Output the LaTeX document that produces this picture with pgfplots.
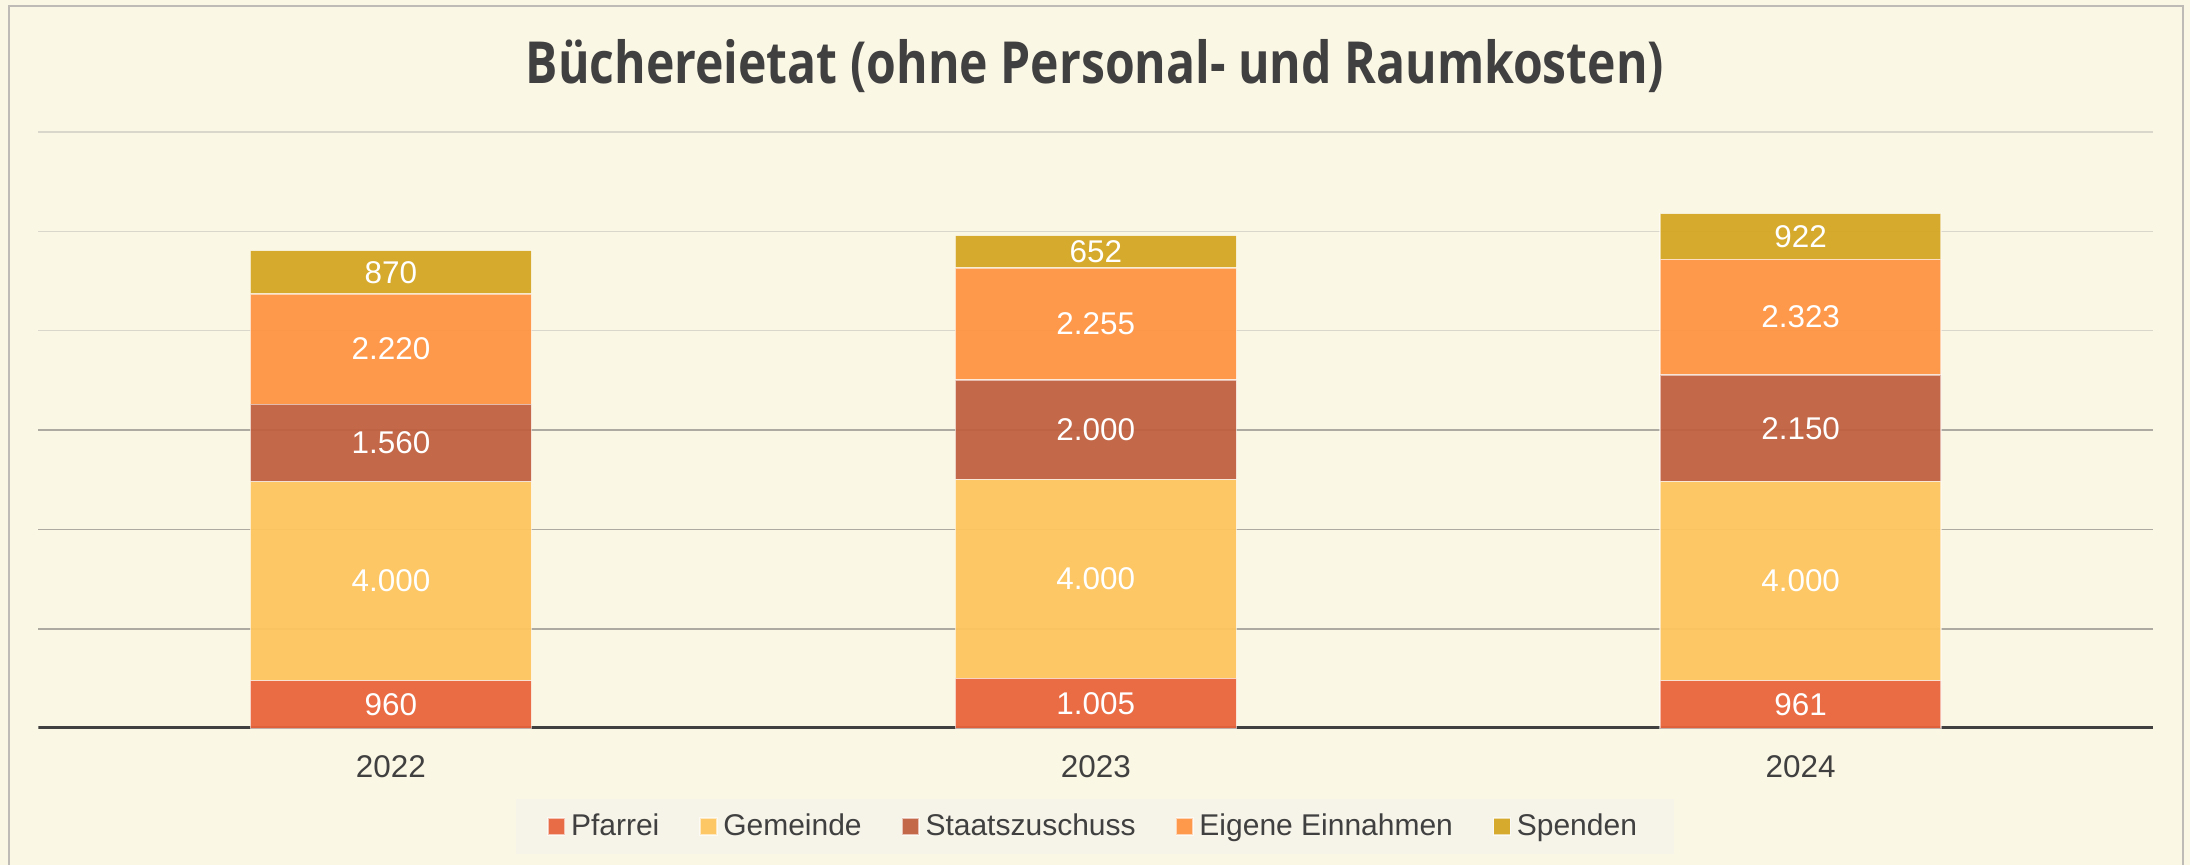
\documentclass[border=0pt]{standalone}
\usepackage{pgfplots}
\pgfplotsset{compat=1.18}
\usepackage{fontspec}
\setmainfont{Liberation Sans}
\newfontfamily\titlefont[UprightFont=* Bold, FakeStretch=0.83]{Open Sans}
\definecolor{bg}{HTML}{FBF7E5}
\definecolor{framec}{HTML}{BEBBB6}
\definecolor{legbg}{HTML}{F6F3E8}
\definecolor{txt}{HTML}{404040}
\definecolor{cP}{HTML}{E8643C}
\definecolor{cG}{HTML}{FDC55C}
\definecolor{cS}{HTML}{C0603F}
\definecolor{cE}{HTML}{FF9442}
\definecolor{cSp}{HTML}{D4A722}
\definecolor{gridA}{HTML}{ADABA1}
\definecolor{gridB}{HTML}{D9D6CB}
\begin{document}
\begin{tikzpicture}[x=1pt,y=1pt]
\fill[bg] (0,0) rectangle (766.5,302.75);
\draw[framec, line width=0.45pt] (3.15,0) -- (3.15,300.65) -- (764.05,300.65) -- (764.05,0);
\node[anchor=base, font=\titlefont\fontsize{20.3}{24}\selectfont, text=txt] at (383.25,273.6) {Büchereietat (ohne Personal- und Raumkosten)};
\begin{axis}[
  at={(13.475pt,47.85pt)}, anchor=south west,
  scale only axis, width=740.1pt, height=208.74pt,
  ybar stacked, bar width=98.35pt,
  xmin=-0.5, xmax=2.5, ymin=0, ymax=12000,
  scaled y ticks=false,
  xtick={0,1,2}, xticklabels={2022,2023,2024},
  ytick={2000,4000,6000}, yticklabels={},
  extra y ticks={8000,10000,12000}, extra y tick labels={},
  ymajorgrids,
  major grid style={draw=gridA, line width=0.45pt},
  extra y tick style={ymajorgrids=true, major grid style={draw=gridB, line width=0.45pt}},
  axis line style={draw=none}, tick style={draw=none}, major tick length=0pt,
  xticklabel style={font=\fontsize{11}{13}\selectfont, text=txt, yshift=-6pt},
  nodes near coords, point meta=explicit symbolic,
  every node near coord/.append style={anchor=center, text=white, text opacity=1,
     font=\fontsize{11}{13}\selectfont},
  mybar/.style={fill=#1, draw=white, draw opacity=0.55, line width=0.5pt, fill opacity=0.94},
  legend style={at={(0.4996,-0.1647)}, anchor=center, draw=none, fill=legbg,
     legend columns=5, font=\fontsize{10.5}{12}\selectfont, text=txt,
     inner xsep=11pt, inner ysep=3pt,
     /tikz/every even column/.append style={column sep=12pt}},
  legend image code/.code={\draw[#1, draw opacity=0.6] (0pt,-2.9pt) rectangle (5.85pt,2.95pt);},
]
\addplot[mybar=cP] table[x=x, y=y, meta=l] {
x y l
0 960 960
1 1005 1.005
2 961 961
};
\addplot[mybar=cG] table[x=x, y=y, meta=l] {
x y l
0 4000 4.000
1 4000 4.000
2 4000 4.000
};
\addplot[mybar=cS] table[x=x, y=y, meta=l] {
x y l
0 1560 1.560
1 2000 2.000
2 2150 2.150
};
\addplot[mybar=cE] table[x=x, y=y, meta=l] {
x y l
0 2220 2.220
1 2255 2.255
2 2323 2.323
};
\addplot[mybar=cSp] table[x=x, y=y, meta=l] {
x y l
0 870 870
1 652 652
2 922 922
};
\legend{Pfarrei, Gemeinde, Staatszuschuss, Eigene Einnahmen, Spenden}
\draw[txt, line width=1.4pt] (rel axis cs:0,0) -- (rel axis cs:1,0);
\end{axis}
\pgfresetboundingbox
\useasboundingbox (0,0) rectangle (766.5,302.75);
\end{tikzpicture}
\end{document}
